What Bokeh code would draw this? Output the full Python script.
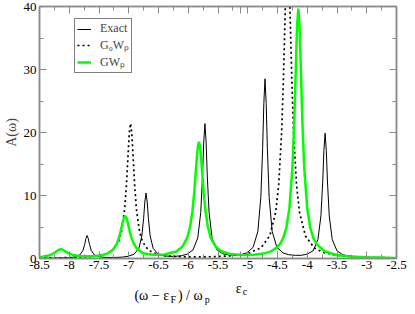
from bokeh.plotting import figure
from bokeh.layouts import column
from bokeh.models import Range1d, FixedTicker, LinearAxis, Legend, LegendItem
from bokeh.core.properties import value
from bokeh.embed import file_html
from bokeh.resources import INLINE

# ---------------- data ----------------
x_exact = [-8.5, -8.25, -8.0, -7.9, -7.82, -7.77, -7.74, -7.72, -7.70, -7.68, -7.66, -7.63, -7.58,
           -7.5, -7.4, -7.3, -7.2, -7.11, -7.01, -6.91, -6.83, -6.78, -6.75, -6.73, -6.71, -6.69,
           -6.67, -6.64, -6.59, -6.51, -6.41, -6.31, -6.21, -6.11, -6.02, -5.92, -5.84, -5.79,
           -5.76, -5.74, -5.72, -5.70, -5.68, -5.65, -5.60, -5.52, -5.42, -5.31, -5.21, -5.11,
           -5.01, -4.91, -4.83, -4.78, -4.75, -4.73, -4.71, -4.69, -4.67, -4.64, -4.59, -4.51,
           -4.41, -4.31, -4.2, -4.1, -4.0, -3.9, -3.82, -3.77, -3.74, -3.72, -3.70, -3.68, -3.66,
           -3.63, -3.58, -3.5, -3.4, -3.2, -3.0, -2.75, -2.5]
a_exact = [0.04, 0.06, 0.13, 0.25, 0.58, 1.27, 2.25, 3.15, 3.65, 3.15, 2.25, 1.27, 0.58,
           0.28, 0.18, 0.16, 0.18, 0.22, 0.35, 0.69, 1.60, 3.57, 6.37, 8.97, 10.39, 8.97,
           6.37, 3.58, 1.61, 0.73, 0.43, 0.34, 0.35, 0.45, 0.68, 1.36, 3.26, 7.31,
           13.10, 18.47, 21.41, 18.47, 13.10, 7.31, 3.27, 1.39, 0.75, 0.54, 0.52, 0.61,
           0.91, 1.78, 4.31, 9.71, 17.43, 24.59, 28.51, 24.59, 17.43, 9.71, 4.31, 1.79,
           0.90, 0.60, 0.50, 0.51, 0.69, 1.24, 3.02, 6.78, 12.16, 17.15, 19.89, 17.15, 12.15,
           6.77, 2.99, 1.22, 0.58, 0.24, 0.13, 0.075, 0.05]

x_g0wp = [-8.5, -8.0, -7.6, -7.4, -7.27, -7.17, -7.12, -7.07, -7.04, -7.01, -6.99, -6.97, -6.95,
          -6.93, -6.90, -6.87, -6.82, -6.77, -6.67, -6.52, -6.37, -6.17, -5.97, -5.6, -5.3, -5.0,
          -4.78, -4.63, -4.53, -4.48, -4.43, -4.40, -4.37, -4.35, -4.33, -4.31, -4.29, -4.26,
          -4.23, -4.18, -4.13, -4.03, -3.88, -3.73, -3.53, -3.33, -3.0, -2.5]
a_g0wp = [0.07, 0.14, 0.33, 0.67, 1.30, 2.68, 4.33, 7.75, 11.48, 16.72, 20.04, 21.45, 20.04,
          16.72, 11.48, 7.75, 4.34, 2.69, 1.32, 0.65, 0.41, 0.29, 0.25, 0.28, 0.41, 0.79,
          1.68, 3.59, 7.36, 11.68, 20.11, 28.61, 39.31, 45.50, 48.00, 45.50, 39.31, 28.60,
          20.10, 11.66, 7.34, 3.57, 1.65, 0.95, 0.54, 0.35, 0.20, 0.10]

x_gwp = [-8.5, -8.45, -8.35, -8.27, -8.2, -8.17, -8.14, -8.11, -8.08, -8.01, -7.92, -7.8, -7.6,
         -7.46, -7.36, -7.26, -7.2, -7.16, -7.14, -7.12, -7.1, -7.08, -7.06, -7.04, -7.02, -7.0,
         -6.98, -6.96, -6.92, -6.86, -6.76, -6.6, -6.4, -6.2, -6.1, -6.02, -5.97, -5.93, -5.9,
         -5.88, -5.86, -5.84, -5.82, -5.8, -5.78, -5.76, -5.74, -5.71, -5.67, -5.62, -5.54,
         -5.45, -5.3, -5.1, -4.9, -4.7, -4.6, -4.5, -4.45, -4.4, -4.35, -4.3, -4.25, -4.22,
         -4.2, -4.18, -4.17, -4.15, -4.13, -4.12, -4.1, -4.08, -4.05, -4.0, -3.95, -3.9, -3.85,
         -3.7, -3.5, -3.3, -3.0, -2.5]
a_gwp = [0.23, 0.28, 0.46, 0.78, 1.23, 1.41, 1.48, 1.41, 1.23, 0.82, 0.50, 0.35, 0.36,
         0.51, 0.78, 1.44, 2.36, 3.43, 4.15, 4.98, 5.82, 6.48, 6.73, 6.48, 5.83, 4.99,
         4.16, 3.44, 2.46, 1.53, 0.83, 0.58, 0.63, 1.12, 1.85, 3.22, 4.99, 7.51, 10.41,
         12.87, 15.49, 17.66, 18.53, 17.66, 15.49, 12.87, 10.41, 7.51, 5.00, 3.24, 1.87,
         1.19, 0.72, 0.54, 0.58, 0.85, 1.18, 1.83, 2.41, 3.35, 4.95, 7.99, 14.33, 21.22,
         27.49, 34.21, 37.06, 39.67, 37.05, 34.20, 27.48, 21.20, 14.31, 7.97, 4.92, 3.33, 2.37,
         1.10, 0.55, 0.33, 0.18, 0.09]

series_labels = ["Exact", "G\u2080W\u209a", "GW\u209a"]

x_ticks = [-8.5, -8.0, -7.5, -7.0, -6.5, -6.0, -5.5, -5.0, -4.5, -4.0, -3.5, -3.0, -2.5]
x_tick_labels = ["-8.5", "-8", "-7.5", "-7", "-6.5", "-6", "-5.5", "-5", "-4.5", "-4", "-3.5", "-3", "-2.5"]
x_minor = [-8.25, -7.75, -7.25, -6.75, -6.25, -5.75, -5.25, -4.75, -4.25, -3.75, -3.25, -2.75]
eps_c = -5.12
y_ticks = [0, 10, 20, 30, 40]
y_tick_labels = ["0", "10", "20", "30", "40"]
y_minor = [5, 15, 25, 35]
y_title = "A(\u03c9)"

# texts of the x-axis title and of the eps_c marker: main parts and subscripts
title_main = ["(\u03c9 \u2212 \u03b5", ") / \u03c9"]
title_sub = ["F", "p"]
eps_main = ["\u03b5"]
eps_sub = ["c"]

# ---------------- style / layout ----------------
FONT = "Liberation Serif"
GRAY = "#8a8a8a"
GREEN = "#00ff00"
W = 407
H_MAIN = 275
H_BOT = 31
B_LEFT, B_RIGHT = 35, 11

p = figure(width=W, height=H_MAIN, x_range=Range1d(-8.5, -2.5), y_range=Range1d(0, 40),
           output_backend="svg", toolbar_location=None, x_axis_type=None, y_axis_type=None,
           min_border_left=B_LEFT, min_border_right=B_RIGHT, min_border_top=6, min_border_bottom=17)
p.outline_line_color = GRAY
p.outline_line_width = 1.5
p.background_fill_color = "white"
p.border_fill_color = "white"


def style_axis(ax, show):
    ax.axis_line_color = GRAY
    ax.axis_line_width = 1.5
    ax.major_tick_line_color = GRAY
    ax.minor_tick_line_color = GRAY
    ax.major_tick_in = 7
    ax.major_tick_out = 0
    ax.minor_tick_in = 4
    ax.minor_tick_out = 0
    ax.major_label_text_font = FONT
    ax.major_label_text_font_size = "13px" if show else "0px"
    ax.major_label_text_color = "black"


xt = FixedTicker(ticks=x_ticks + [eps_c], minor_ticks=x_minor)
yt = FixedTicker(ticks=y_ticks, minor_ticks=y_minor)

xb = LinearAxis(ticker=xt)
xb.major_label_overrides = {**{t: l for t, l in zip(x_ticks, x_tick_labels)}, eps_c: ""}
style_axis(xb, True)
xb.major_label_standoff = 2
p.add_layout(xb, "below")

xa = LinearAxis(ticker=xt)
xa.major_label_overrides = {**{t: "" for t in x_ticks}, eps_c: ""}
style_axis(xa, False)
xa.major_label_standoff = 0
p.add_layout(xa, "above")

yl = LinearAxis(ticker=yt, axis_label=y_title)
yl.major_label_overrides = {t: l for t, l in zip(y_ticks, y_tick_labels)}
style_axis(yl, True)
yl.major_label_standoff = 3
yl.axis_label_text_font = FONT
yl.axis_label_text_font_size = "14px"
yl.axis_label_text_font_style = "normal"
yl.axis_label_standoff = 2
p.add_layout(yl, "left")

yr = LinearAxis(ticker=yt)
yr.major_label_overrides = {t: "" for t in y_ticks}
style_axis(yr, False)
yr.major_label_standoff = 0
p.add_layout(yr, "right")

# ---------------- curves ----------------
r1 = p.line(x_exact, a_exact, line_color="black", line_width=1)
r2 = p.line(x_g0wp, a_g0wp, line_color="black", line_width=1.7, line_dash="2 3")
r3 = p.line(x_gwp, a_gwp, line_color=GREEN, line_width=2.5)

legend = Legend(items=[LegendItem(label=series_labels[0], renderers=[r1]),
                       LegendItem(label=series_labels[1], renderers=[r2]),
                       LegendItem(label=series_labels[2], renderers=[r3])],
                location=(35, 185))
legend.label_text_font = FONT
legend.label_text_font_size = "12px"
legend.border_line_color = "black"
legend.border_line_width = 1
legend.background_fill_color = "white"
legend.background_fill_alpha = 1
legend.padding = 2
legend.spacing = 0
legend.margin = 0
legend.glyph_width = 14
legend.glyph_height = 14
legend.label_height = 14
legend.label_standoff = 9
p.add_layout(legend)

# ---------------- strip under the chart: x title and eps_c (pixel coordinates, y downwards) ----------------
pb = figure(width=W, height=H_BOT, x_range=Range1d(B_LEFT, W - B_RIGHT),
            y_range=Range1d(H_MAIN + H_BOT, H_MAIN), title=None,
            output_backend="svg", toolbar_location=None, x_axis_type=None, y_axis_type=None,
            min_border=0, min_border_left=B_LEFT, min_border_right=B_RIGHT,
            min_border_top=0, min_border_bottom=0, outline_line_color=None)
pb.background_fill_color = "white"
pb.border_fill_color = "white"
pb.text(x=[131, 175], y=[295, 295], text=title_main, text_font=value(FONT),
        text_font_size=value("14px"), text_baseline="alphabetic", text_align="left", text_color="black")
pb.text(x=[167.5, 202], y=[298.5, 298.5], text=title_sub, text_font=value(FONT),
        text_font_size=value("10px"), text_baseline="alphabetic", text_align="left", text_color="black")
pb.text(x=[233.5], y=[287.5], text=eps_main, text_font=value(FONT),
        text_font_size=value("14px"), text_baseline="alphabetic", text_align="left", text_color="black")
pb.text(x=[240.5], y=[291], text=eps_sub, text_font=value(FONT),
        text_font_size=value("10px"), text_baseline="alphabetic", text_align="left", text_color="black")

layout = column(p, pb, spacing=0)
open("out.html", "w").write(file_html(layout, INLINE))
